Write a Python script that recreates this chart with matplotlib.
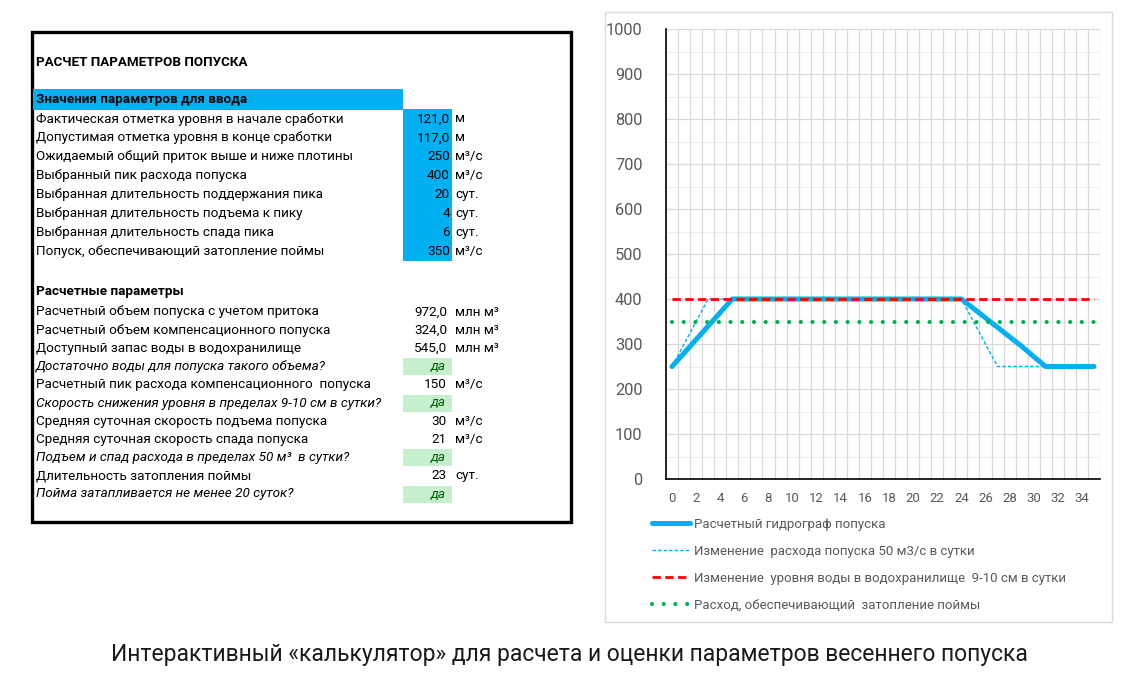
import matplotlib
matplotlib.use("Agg")
import matplotlib.pyplot as plt
from matplotlib.patches import Rectangle

plt.rcParams['font.family'] = ['Roboto', 'DejaVu Sans']

# ---------------- data ----------------
title_text = "РАСЧЕТ ПАРАМЕТРОВ ПОПУСКА"
input_header = "Значения параметров для ввода"
input_labels = [
    "Фактическая отметка уровня в начале сработки",
    "Допустимая отметка уровня в конце сработки",
    "Ожидаемый общий приток выше и ниже плотины",
    "Выбранный пик расхода попуска",
    "Выбранная длительность поддержания пика",
    "Выбранная длительность подъема к пику",
    "Выбранная длительность спада пика",
    "Попуск, обеспечивающий затопление поймы",
]
input_values = ["121,0", "117,0", "250", "400", "20", "4", "6", "350"]
input_units = ["м", "м", "м³/с", "м³/с", "сут.", "сут.", "сут.", "м³/с"]

calc_header = "Расчетные параметры"
calc_labels = [
    "Расчетный объем попуска с учетом притока",
    "Расчетный объем компенсационного попуска",
    "Доступный запас воды в водохранилище",
    "Достаточно воды для попуска такого объема?",
    "Расчетный пик расхода компенсационного  попуска",
    "Скорость снижения уровня в пределах 9-10 см в сутки?",
    "Средняя суточная скорость подъема попуска",
    "Средняя суточная скорость спада попуска",
    "Подъем и спад расхода в пределах 50 м³  в сутки?",
    "Длительность затопления поймы",
    "Пойма затапливается не менее 20 суток?",
]
calc_values = ["972,0", "324,0", "545,0", "да", "150", "да", "30", "21", "да", "23", "да"]
calc_units = ["млн м³", "млн м³", "млн м³", "", "м³/с", "", "м³/с", "м³/с", "", "сут.", ""]
calc_is_check = [False, False, False, True, False, True, False, False, True, False, True]

days = list(range(36))
release = [250, 280, 310, 340, 370, 400, 400, 400, 400, 400, 400, 400,
           400, 400, 400, 400, 400, 400, 400, 400, 400, 400, 400, 400,
           400, 379, 358, 337, 316, 295, 272, 250, 250, 250, 250, 250]
release_50 = [250, 300, 350, 400, 400, 400, 400, 400, 400, 400, 400, 400,
              400, 400, 400, 400, 400, 400, 400, 400, 400, 400, 400, 400,
              400, 350, 300, 250, 250, 250, 250, 250, 250, 250, 250, 250]
level_limit = [400, 400, 400, 400, 400, 400, 400, 400, 400, 400, 400, 400,
               400, 400, 400, 400, 400, 400, 400, 400, 400, 400, 400, 400,
               400, 400, 400, 400, 400, 400, 400, 400, 400, 400, 400, 400]
flood_flow = [350, 350, 350, 350, 350, 350, 350, 350, 350, 350, 350, 350,
              350, 350, 350, 350, 350, 350, 350, 350, 350, 350, 350, 350,
              350, 350, 350, 350, 350, 350, 350, 350, 350, 350, 350, 350]
series_labels = [
    "Расчетный гидрограф попуска",
    "Изменение  расхода попуска 50 м3/с в сутки",
    "Изменение  уровня воды в водохранилище  9-10 см в сутки",
    "Расход, обеспечивающий  затопление поймы",
]
caption = "Интерактивный «калькулятор» для расчета и оценки параметров весеннего попуска"

# ---------------- figure ----------------
W, H = 1138, 678
fig = plt.figure(figsize=(W / 100, H / 100), dpi=100)
fig.patch.set_facecolor("white")
bg = fig.add_axes([0, 0, 1, 1])
bg.set_xlim(0, W)
bg.set_ylim(H, 0)
bg.axis("off")

BLUE = "#00b0f0"
GREEN_CELL = "#c6efce"
GREEN_TXT = "#006100"
fs = 9.7

# table frame
bg.add_patch(Rectangle((32, 32), 539, 490, fill=False, ec="black", lw=2.4))
bg.text(36, 62, title_text, fontsize=9.6, fontweight="bold", va="center")
bg.add_patch(Rectangle((33, 89), 370, 21, fc=BLUE, ec="none"))
bg.text(36, 100, input_header, fontsize=fs, fontweight="bold", va="center")
bg.add_patch(Rectangle((403, 109), 49, 152, fc=BLUE, ec="none"))
for i, (lab, val, un) in enumerate(zip(input_labels, input_values, input_units)):
    y = 119 + i * 18.9
    bg.text(36, y, lab, fontsize=fs, va="center")
    bg.text(450, y, val, fontsize=fs, va="center", ha="right")
    bg.text(455, y, un, fontsize=fs, va="center")

bg.text(36, 292, calc_header, fontsize=fs, fontweight="bold", va="center")
for i, (lab, val, un, chk) in enumerate(zip(calc_labels, calc_values, calc_units, calc_is_check)):
    y = 312 + i * 18.2
    if chk:
        bg.add_patch(Rectangle((403, y - 8.5), 49, 17, fc=GREEN_CELL, ec="none"))
        bg.text(36, y, lab, fontsize=fs, va="center", style="italic")
        bg.text(446, y, val, fontsize=fs, va="center", ha="right", style="italic", color=GREEN_TXT)
    else:
        bg.text(36, y, lab, fontsize=fs, va="center")
        bg.text(447, y, val, fontsize=fs, va="center", ha="right")
        bg.text(455, y, un, fontsize=fs, va="center")

# chart area border
bg.add_patch(Rectangle((605, 12), 507, 610, fill=False, ec="#d9d9d9", lw=1))

bg.text(569, 655, caption, fontsize=16.5, ha="center", va="center", color="#1a1a1a")

# ---------------- chart ----------------
x0, x1, y0, y1 = 666, 1100, 29, 479
ax = fig.add_axes([x0 / W, 1 - y1 / H, (x1 - x0) / W, (y1 - y0) / H])
ax.set_facecolor("white")
ax.set_xlim(-0.5, 35.5)
ax.set_ylim(0, 1000)

for v in range(50, 1001, 100):
    ax.axhline(v, color="#efefef", lw=0.8, zorder=0)
for v in range(100, 1001, 100):
    ax.axhline(v, color="#d9d9d9", lw=0.9, zorder=0)
for k in range(36):
    ax.axvline(k + 0.5, color="#d9d9d9", lw=0.9, zorder=0)

l1, = ax.plot(days, release, color=BLUE, lw=3.6, solid_capstyle="round",
              solid_joinstyle="round", zorder=3, label=series_labels[0])
l2, = ax.plot(days, release_50, color=BLUE, lw=1.0, ls=(0, (2.5, 1.5)), zorder=4,
              label=series_labels[1])
l3, = ax.plot(days, level_limit, color="#ff0000", lw=2.0, ls=(0, (3, 1.6)), zorder=5,
              label=series_labels[2])
l4, = ax.plot(days, flood_flow, color="#00b050", lw=3.0, ls=(0, (0.01, 2.8)),
              dash_capstyle="round", zorder=5, label=series_labels[3])

ax.set_yticks(range(0, 1001, 100))
ax.set_xticks(range(0, 36, 2))
ax.tick_params(length=0)
ax.tick_params(axis="y", labelsize=11.8, labelcolor="#595959", pad=17)
ax.tick_params(axis="x", labelsize=9.5, labelcolor="#595959", pad=9)
for s in ("top", "right"):
    ax.spines[s].set_visible(False)
ax.spines["left"].set_color("black")
ax.spines["bottom"].set_color("black")
ax.spines["left"].set_linewidth(1.2)
ax.spines["bottom"].set_linewidth(1.2)

leg = ax.legend(handles=[l1, l2, l3, l4], loc="upper left",
                bbox_to_anchor=(652 / W, 1 - 518 / H), bbox_transform=fig.transFigure,
                frameon=False, fontsize=9.5, labelcolor="#595959", handlelength=2.9,
                handletextpad=0.25, labelspacing=1.05, borderaxespad=0, borderpad=0)

fig.savefig("out.png", dpi=100, facecolor="white")
